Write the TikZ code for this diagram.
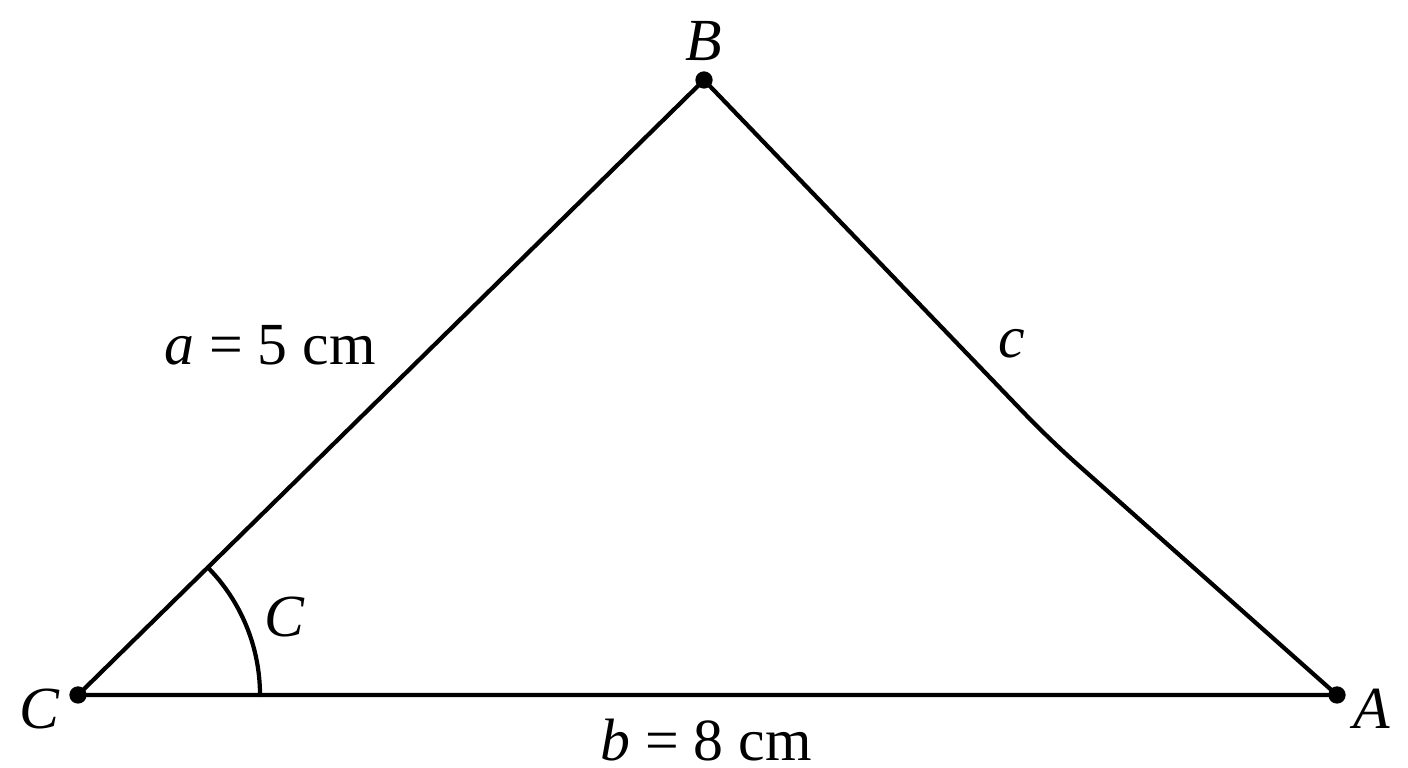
\documentclass[tikz,border=0pt]{standalone}
\usepackage{fontspec}
\setmainfont{Liberation Serif}
\begin{document}
\begin{tikzpicture}[font=\fontsize{17}{20}\selectfont, line width=1.2pt, line cap=round]
\useasboundingbox (0,0) rectangle (14.08,7.68);
\coordinate (C) at (0.78,0.73);
\coordinate (B) at (7.04,6.88);
\coordinate (A) at (13.37,0.73);
\coordinate (K) at (10.5,3.28);
\draw (A) -- (C) -- (B);
\draw[rounded corners=0.35cm] (B) -- (K) -- (A);
\draw (C) ++(1.82,0) arc [start angle=0, end angle=44.5, radius=1.82];
\draw[fill=black] (C) circle [radius=0.065];
\draw[fill=black] (B) circle [radius=0.065];
\draw[fill=black] (A) circle [radius=0.065];
\node (lB) at (7.04,7.27) {\textit{B}};
\node (lC) at (0.40,0.59) {\textit{C}};
\node (lA) at (13.72,0.59) {\textit{A}};
\node (la) at (2.70,4.23) {\textit{a} = 5 cm};
\node (lc) at (10.12,4.24) {\textit{c}};
\node (lb) at (7.06,0.28) {\textit{b} = 8 cm};
\node (lang) at (2.85,1.51) {\textit{C}};
\end{tikzpicture}
\end{document}
